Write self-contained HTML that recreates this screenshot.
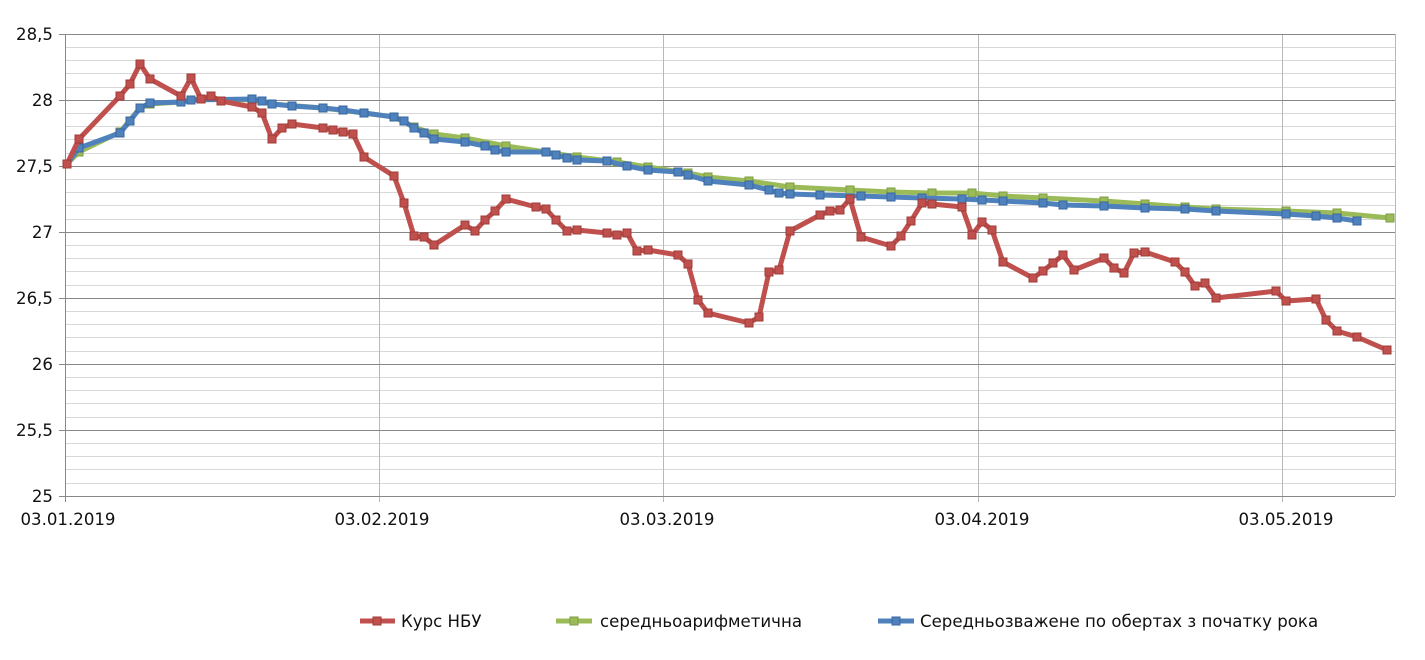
<!DOCTYPE html>
<html><head><meta charset="utf-8"><style>
body{margin:0;background:#fff;}
svg{display:block;font-family:"DejaVu Sans","Liberation Sans",sans-serif;}
</style></head><body>
<svg width="1425" height="660" viewBox="0 0 1425 660">
<defs>
<marker id="mr" markerUnits="userSpaceOnUse" markerWidth="10" markerHeight="10" refX="5" refY="5"><rect x="1" y="1" width="8" height="8" fill="#c0504d" stroke="#9e3b38" stroke-width="1"/></marker>
<marker id="mg" markerUnits="userSpaceOnUse" markerWidth="10" markerHeight="10" refX="5" refY="5"><rect x="1" y="1" width="8" height="8" fill="#9bbb59" stroke="#7f9c44" stroke-width="1"/></marker>
<marker id="mb" markerUnits="userSpaceOnUse" markerWidth="10" markerHeight="10" refX="5" refY="5"><rect x="1" y="1" width="8" height="8" fill="#4f81bd" stroke="#3a679e" stroke-width="1"/></marker>
</defs>
<g stroke="#d8d8d8" stroke-width="1">
<line x1="65" x2="1395" y1="47.5" y2="47.5"/><line x1="65" x2="1395" y1="60.5" y2="60.5"/><line x1="65" x2="1395" y1="73.5" y2="73.5"/><line x1="65" x2="1395" y1="87.5" y2="87.5"/>
<line x1="65" x2="1395" y1="113.5" y2="113.5"/><line x1="65" x2="1395" y1="126.5" y2="126.5"/><line x1="65" x2="1395" y1="139.5" y2="139.5"/><line x1="65" x2="1395" y1="153.5" y2="153.5"/>
<line x1="65" x2="1395" y1="179.5" y2="179.5"/><line x1="65" x2="1395" y1="192.5" y2="192.5"/><line x1="65" x2="1395" y1="205.5" y2="205.5"/><line x1="65" x2="1395" y1="219.5" y2="219.5"/>
<line x1="65" x2="1395" y1="245.5" y2="245.5"/><line x1="65" x2="1395" y1="258.5" y2="258.5"/><line x1="65" x2="1395" y1="271.5" y2="271.5"/><line x1="65" x2="1395" y1="285.5" y2="285.5"/>
<line x1="65" x2="1395" y1="311.5" y2="311.5"/><line x1="65" x2="1395" y1="324.5" y2="324.5"/><line x1="65" x2="1395" y1="337.5" y2="337.5"/><line x1="65" x2="1395" y1="351.5" y2="351.5"/>
<line x1="65" x2="1395" y1="377.5" y2="377.5"/><line x1="65" x2="1395" y1="390.5" y2="390.5"/><line x1="65" x2="1395" y1="403.5" y2="403.5"/><line x1="65" x2="1395" y1="417.5" y2="417.5"/>
<line x1="65" x2="1395" y1="443.5" y2="443.5"/><line x1="65" x2="1395" y1="456.5" y2="456.5"/><line x1="65" x2="1395" y1="469.5" y2="469.5"/><line x1="65" x2="1395" y1="483.5" y2="483.5"/>
</g>
<g stroke="#b8b8b8" stroke-width="1">
<line x1="379.5" x2="379.5" y1="34" y2="502"/><line x1="663.5" x2="663.5" y1="34" y2="502"/><line x1="978.5" x2="978.5" y1="34" y2="502"/><line x1="1282.5" x2="1282.5" y1="34" y2="502"/><line x1="1395.5" x2="1395.5" y1="34" y2="496"/>
</g>
<g stroke="#888" stroke-width="1">
<line x1="59" x2="1395" y1="34.5" y2="34.5"/><line x1="59" x2="1395" y1="100.5" y2="100.5"/><line x1="59" x2="1395" y1="166.5" y2="166.5"/><line x1="59" x2="1395" y1="232.5" y2="232.5"/><line x1="59" x2="1395" y1="298.5" y2="298.5"/><line x1="59" x2="1395" y1="364.5" y2="364.5"/><line x1="59" x2="1395" y1="430.5" y2="430.5"/><line x1="59" x2="1395" y1="496.5" y2="496.5"/>
<line x1="65.5" x2="65.5" y1="34" y2="502"/>
</g>
<g font-size="16.6" fill="#111" text-anchor="end">
<text x="53" y="40">28,5</text><text x="53" y="106">28</text><text x="53" y="172">27,5</text><text x="53" y="238">27</text><text x="53" y="304">26,5</text><text x="53" y="370">26</text><text x="53" y="436">25,5</text><text x="53" y="502">25</text>
</g>
<g font-size="16.6" fill="#111" text-anchor="middle">
<text x="68" y="525">03.01.2019</text><text x="382" y="525">03.02.2019</text><text x="667" y="525">03.03.2019</text><text x="982" y="525">03.04.2019</text><text x="1286" y="525">03.05.2019</text>
</g>
<polyline fill="none" stroke="#9bbb59" stroke-width="5" stroke-linejoin="round" marker-start="url(#mg)" marker-mid="url(#mg)" marker-end="url(#mg)" points="67,164 79,152 120,132 140,108 150,104 181,102 201,99 252,100 272,104 323,108 364,113 394,117 414,127 434,134 465,138 506,146 546,152 577,157 617,162 648,167 688,173 708,177 749,181 790,187 850,190 891,192 932,193 972,193 1003,196 1043,198 1104,201 1145,204 1185,207 1216,209 1286,211 1337,213 1390,218"/>
<polyline fill="none" stroke="#4f81bd" stroke-width="5" stroke-linejoin="round" marker-start="url(#mb)" marker-mid="url(#mb)" marker-end="url(#mb)" points="67,164 79,148 120,133 130,121 140,108 150,103 181,102 191,100 252,99 262,101 272,104 292,106 323,108 343,110 364,113 394,117 404,121 414,128 424,133 434,139 465,142 485,146 495,150 506,152 546,152 556,155 567,158 577,160 607,161 627,166 648,170 678,172 688,175 708,181 749,185 769,190 779,193 790,194 820,195 861,196 891,197 922,198 962,199 982,200 1003,201 1043,203 1063,205 1104,206 1145,208 1185,209 1216,211 1286,214 1316,216 1337,218 1357,221"/>
<polyline fill="none" stroke="#c0504d" stroke-width="5" stroke-linejoin="round" marker-start="url(#mr)" marker-mid="url(#mr)" marker-end="url(#mr)" points="67,164 79,139 120,96 130,84 140,64 150,79 181,96 191,78 201,99 211,96 221,101 252,107 262,113 272,139 282,128 292,124 323,128 333,130 343,132 353,134 364,157 394,176 404,203 414,236 424,237 434,245 465,225 475,231 485,220 495,211 506,199 536,207 546,209 556,220 567,231 577,230 607,233 617,235 627,233 637,251 648,250 678,255 688,264 698,300 708,313 749,323 759,317 769,272 779,270 790,231 820,215 830,211 840,210 850,199 861,237 891,246 901,236 911,221 922,203 932,204 962,207 972,235 982,222 992,230 1003,262 1033,278 1043,271 1053,263 1063,255 1074,270 1104,258 1114,268 1124,273 1134,253 1145,252 1175,262 1185,272 1195,286 1205,283 1216,298 1276,291 1286,301 1316,299 1326,320 1337,331 1357,337 1387,350"/>
<g font-size="16.6" fill="#111">
<line x1="360" x2="395" y1="621" y2="621" stroke="#c0504d" stroke-width="5"/><rect x="373" y="617" width="8" height="8" fill="#c0504d" stroke="#9e3b38"/>
<text x="401" y="627">Курс НБУ</text>
<line x1="556" x2="592" y1="621" y2="621" stroke="#9bbb59" stroke-width="5"/><rect x="570" y="617" width="8" height="8" fill="#9bbb59" stroke="#7f9c44"/>
<text x="600" y="627">середньоарифметична</text>
<line x1="878" x2="914" y1="621" y2="621" stroke="#4f81bd" stroke-width="5"/><rect x="892" y="617" width="8" height="8" fill="#4f81bd" stroke="#3a679e"/>
<text x="920" y="627">Середньозважене по обертах з початку рока</text>
</g>
</svg>
</body></html>
